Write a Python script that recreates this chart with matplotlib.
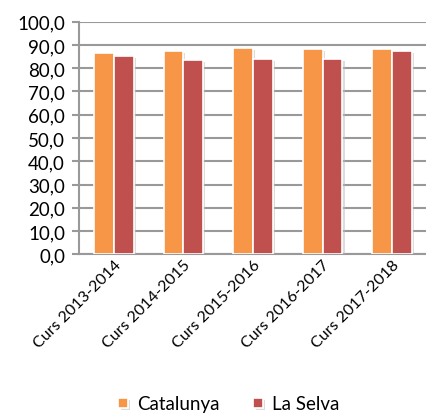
import matplotlib.pyplot as plt
import matplotlib.patheffects as pe
import numpy as np

plt.rcParams['font.family'] = ['Lato', 'DejaVu Sans']

cursos = ["Curs 2013-2014", "Curs 2014-2015", "Curs 2015-2016",
          "Curs 2016-2017", "Curs 2017-2018"]
catalunya = [86.5, 87.3, 88.6, 88.1, 88.4]
la_selva = [85.4, 83.5, 84.0, 84.0, 87.3]

fig = plt.figure(figsize=(4.27, 4.14), dpi=100)
ax = fig.add_axes([79 / 427, 1 - 255.3 / 414, 1 - 79 / 427, (255.3 - 22.7) / 414])

x = np.arange(len(cursos))
w = 0.285
shadow = [pe.SimplePatchShadow(offset=(1.5, -1.5), shadow_rgbFace='#bbbbbb', alpha=0.5), pe.Normal()]
b1 = ax.bar(x - w / 2, catalunya, w, color='#F79646', edgecolor='white', linewidth=1.2,
            label='Catalunya', zorder=3)
b2 = ax.bar(x + w / 2, la_selva, w, color='#C0504D', edgecolor='white', linewidth=1.2,
            label='La Selva', zorder=3)
for b in list(b1) + list(b2):
    b.set_path_effects(shadow)

ax.set_xlim(-0.5, len(cursos) - 0.5)
ax.set_ylim(0, 100)
ax.set_yticks(np.arange(0, 101, 10))
ax.set_yticklabels([f"{v:.1f}".replace('.', ',') for v in np.arange(0, 101, 10)], fontsize=13.5)
ax.yaxis.grid(True, color='#999999', linewidth=1.5, zorder=0)
ax.tick_params(axis='y', length=5, width=1.5, color='#999999', pad=5)
ax.tick_params(axis='x', length=0, pad=2)
ax.set_xticks(x)
ax.set_xticklabels(cursos, rotation=45, ha='right', rotation_mode='anchor', fontsize=11.5)

for s in ['top', 'right']:
    ax.spines[s].set_visible(False)
for s in ['left', 'bottom']:
    ax.spines[s].set_color('#999999')
    ax.spines[s].set_linewidth(1.5)

fig.legend(handles=[b1, b2], labels=['Catalunya', 'La Selva'], loc='center',
           bbox_to_anchor=(229 / 427, 1 - 405 / 414), ncol=2, frameon=False, fontsize=13.5,
           handlelength=0.5, handleheight=0.5, handletextpad=0.5, columnspacing=1.8)

fig.savefig('out.png', dpi=100)
